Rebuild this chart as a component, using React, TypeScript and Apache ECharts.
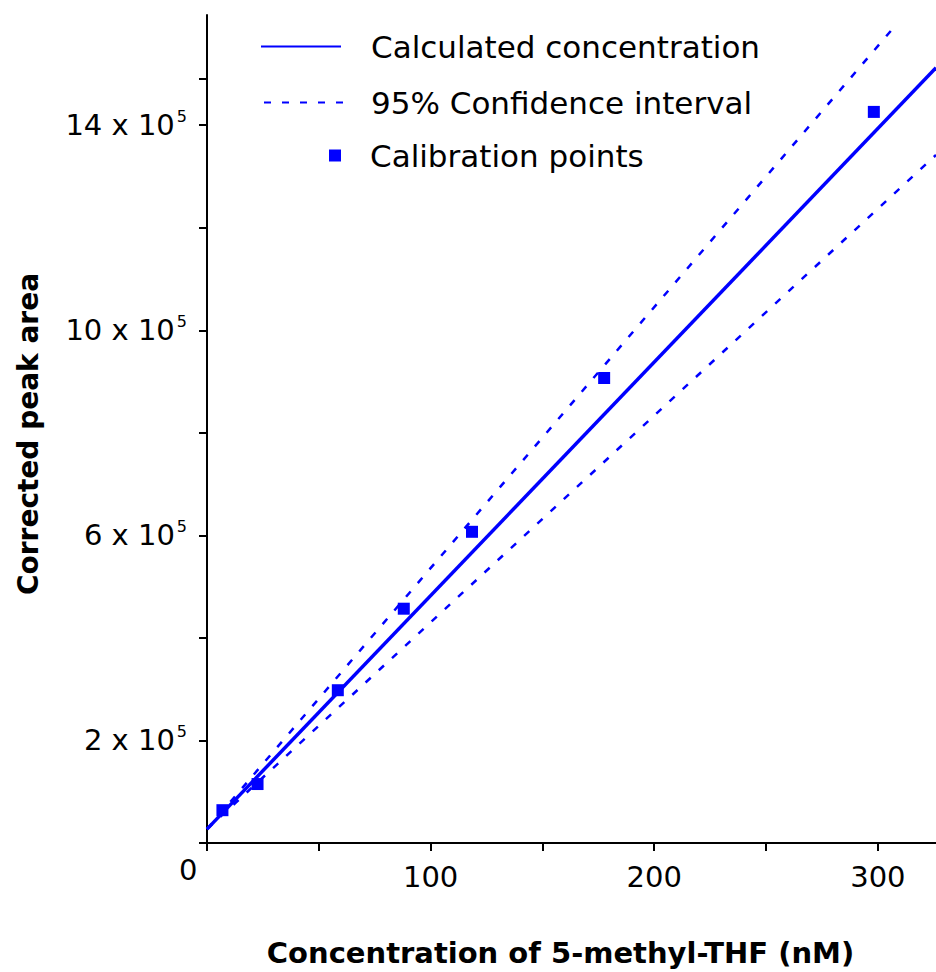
import React, { useEffect, useRef } from "react";
import * as echarts from "echarts";

// Calibration points: concentration (nM) and corrected peak area
const concentrations = [6.9, 22.6, 58.5, 88.0, 118.5, 177.6, 298.2];
const peakAreas = [64000, 115000, 298000, 457000, 607000, 907000, 1426000];

// Fitted line and 95% confidence bounds (end points)
const fitX = [0, 326];
const fitY = [27000, 1512000];
const upperX = [0, 306];
const upperY = [27000, 1585000];
const lowerX = [0, 326];
const lowerY = [27000, 1342000];

// Axis ticks and labels
const xTickValues = [0, 50, 100, 150, 200, 250, 300];
const xLabelValues = [100, 200, 300];
const yTickValues = [0, 200000, 400000, 600000, 800000, 1000000, 1200000, 1400000, 1490000];
const yLabelValues = [200000, 600000, 1000000, 1400000];

const FONT = "DejaVu Sans";
const BLUE = "#0000ff";

const pairs = (xs: number[], ys: number[]) => xs.map((x, i) => [x, ys[i]]);

export default function App() {
  const ref = useRef<HTMLDivElement>(null);
  useEffect(() => {
    if (!ref.current) return;
    const chart = echarts.init(ref.current, undefined, { renderer: "svg" });
    const legendText = { fontFamily: FONT, fontSize: 31, color: "#000" };
    const option: any = {
      animation: false,
      backgroundColor: "#ffffff",
      grid: { left: 207, right: 0, top: 15, bottom: 127, containLabel: false },
      legend: [
        {
          data: ["Calculated concentration"],
          left: 255,
          top: 26,
          itemWidth: 80,
          itemHeight: 14,
          itemStyle: { opacity: 0 },
          textStyle: { ...legendText, padding: [0, 0, 0, 25] },
        },
        {
          data: ["95% Confidence interval"],
          left: 258,
          top: 82,
          itemWidth: 80,
          itemHeight: 14,
          itemStyle: { opacity: 0 },
          textStyle: { ...legendText, padding: [0, 0, 0, 22] },
        },
        {
          data: [{ name: "Calibration points", icon: "rect" }],
          left: 324,
          top: 135,
          itemWidth: 12,
          itemHeight: 12,
          textStyle: { ...legendText, padding: [0, 0, 0, 24] },
        },
      ],
      xAxis: {
        type: "value",
        min: 0,
        max: 326,
        name: "Concentration of 5-methyl-THF (nM)",
        nameLocation: "middle",
        nameGap: 95,
        nameTextStyle: {
          fontFamily: FONT,
          fontSize: 29,
          fontWeight: "bold",
          color: "#000",
          padding: [0, 22, 0, 0],
        },
        splitLine: { show: false },
        axisLine: { lineStyle: { color: "#000", width: 2 } },
        axisTick: {
          show: true,
          length: 8,
          lineStyle: { color: "#000", width: 2 },
          customValues: xTickValues,
        },
        axisLabel: {
          fontFamily: FONT,
          fontSize: 29,
          color: "#000",
          margin: 19,
          customValues: xLabelValues,
        },
      },
      yAxis: {
        type: "value",
        min: 0,
        max: 1615000,
        name: "Corrected peak area",
        nameLocation: "middle",
        nameRotate: 90,
        nameGap: 165,
        nameTextStyle: {
          fontFamily: FONT,
          fontSize: 28,
          fontWeight: "bold",
          color: "#000",
          padding: [0, 10, 0, 0],
        },
        splitLine: { show: false },
        axisLine: { lineStyle: { color: "#000", width: 2 } },
        axisTick: {
          show: true,
          length: 8,
          lineStyle: { color: "#000", width: 2 },
          customValues: yTickValues,
        },
        axisLabel: {
          margin: 20,
          customValues: yLabelValues,
          formatter: (v: number) => `{b|${Math.round(v / 100000)} x 10}{s|5}`,
          rich: {
            b: { fontFamily: FONT, fontSize: 29, color: "#000", lineHeight: 34 },
            s: { fontFamily: FONT, fontSize: 16, color: "#000", verticalAlign: "top", padding: [0, 0, 0, 2] },
          },
        },
      },
      graphic: [
        {
          type: "text",
          left: 179,
          top: 855,
          style: { text: "0", fontFamily: FONT, fontSize: 29, fill: "#000" },
        },
      ],
      series: [
        {
          name: "Calculated concentration",
          type: "line",
          data: pairs(fitX, fitY),
          symbol: "none",
          lineStyle: { color: BLUE, width: 3.5 },
          itemStyle: { color: BLUE },
          z: 3,
        },
        {
          name: "95% Confidence interval",
          type: "line",
          data: pairs(upperX, upperY),
          symbol: "none",
          lineStyle: { color: BLUE, width: 2.5, type: [7, 11] },
          itemStyle: { color: BLUE },
          z: 2,
        },
        {
          name: "95% Confidence interval",
          type: "line",
          data: pairs(lowerX, lowerY),
          symbol: "none",
          lineStyle: { color: BLUE, width: 2.5, type: [7, 11] },
          itemStyle: { color: BLUE },
          z: 2,
        },
        {
          name: "Calibration points",
          type: "scatter",
          data: pairs(concentrations, peakAreas),
          symbol: "rect",
          symbolSize: 12,
          itemStyle: { color: BLUE, opacity: 1 },
          z: 4,
        },
      ],
    };
    chart.setOption(option);
    return () => chart.dispose();
  }, []);
  return (
    <div
      ref={ref}
      style={{ position: "absolute", left: 0, top: 0, width: 936, height: 972 }}
    />
  );
}
